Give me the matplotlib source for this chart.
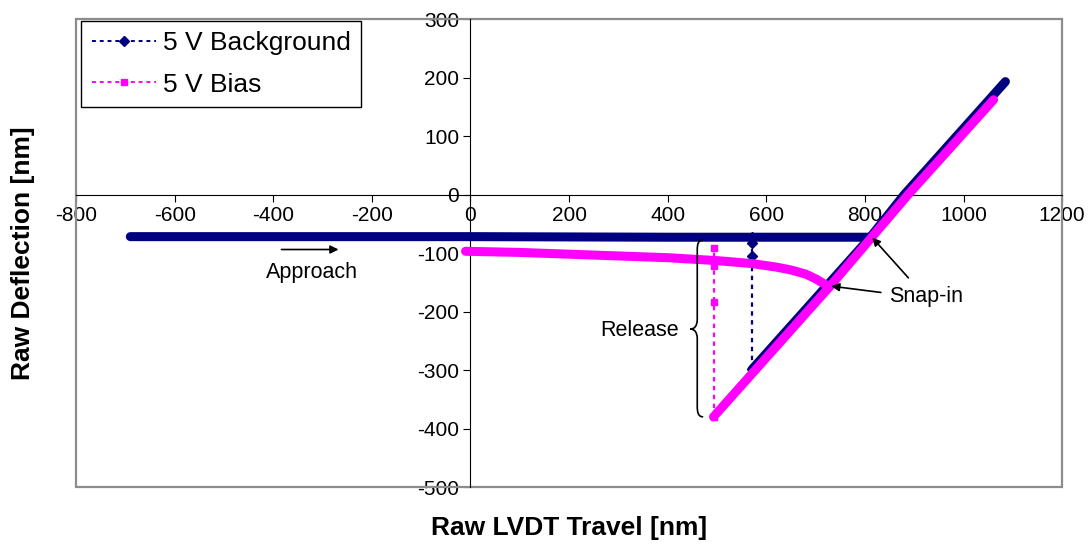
import matplotlib.pyplot as plt
from matplotlib.lines import Line2D
from matplotlib.patches import PathPatch, Rectangle
from matplotlib.path import Path

plt.rcParams['font.family'] = ['Liberation Sans', 'DejaVu Sans']
plt.rcParams['axes.unicode_minus'] = False

# 5 V background run: approach, contact line and release jump
bg_approach_x = [-690, -400, 0, 400, 811]
bg_approach_y = [-72, -72, -72, -73, -73]
bg_contact_x = [571, 811, 880, 1085]
bg_contact_y = [-299, -73, 0, 193]
bg_release_x = [571, 571, 571, 571]
bg_release_y = [-299, -105, -83, -73]

# 5 V bias run
bias_approach_x = [-10, 100, 200, 300, 400, 500, 570, 620, 650, 680, 700, 728]
bias_approach_y = [-97, -99, -102, -105, -108, -113, -118, -124, -129, -136, -144, -158]
bias_contact_x = [493, 728, 888, 1061]
bias_contact_y = [-380, -158, 0, 162]
bias_release_x = [493, 493, 493, 493]
bias_release_y = [-380, -183, -123, -92]

x_ticks = [-800, -600, -400, -200, 0, 200, 400, 600, 800, 1000, 1200]
y_ticks = [-500, -400, -300, -200, -100, 0, 100, 200, 300]

navy = '#000080'
pink = '#FF00FF'

fig = plt.figure(figsize=(10.88, 5.45), dpi=100)
ax = fig.add_axes([0.0699, 0.1064, 0.9063, 0.8587])
ax.set_xlim(-800, 1200)
ax.set_ylim(-500, 300)

# grey frame round the plot area, axes crossing at zero
for s in ['top', 'right']:
    ax.spines[s].set_visible(False)
ax.spines['left'].set_position(('data', 0))
ax.spines['bottom'].set_position(('data', 0))
ax.spines['left'].set_color('black')
ax.spines['bottom'].set_color('black')
ax.add_patch(Rectangle((0, 0), 1, 1, transform=ax.transAxes, fill=False,
                       edgecolor='#8c8c8c', lw=1.6, zorder=2.4, clip_on=False))

ax.set_xticks(x_ticks)
ax.set_yticks(y_ticks)
ax.tick_params(direction='out', length=5, width=0.8, labelsize=15, pad=3)

band = dict(lw=6.5, solid_capstyle='round', solid_joinstyle='round', zorder=3)
ax.plot(bg_approach_x, bg_approach_y, color=navy, **band)
ax.plot(bg_contact_x, bg_contact_y, color=navy, **band)
ax.plot(bg_release_x, bg_release_y, color=navy, ls=(0, (2, 2)), lw=1.6,
        marker='D', ms=5, zorder=3)

ax.plot(bias_approach_x, bias_approach_y, color=pink, **band)
ax.plot(bias_contact_x, bias_contact_y, color=pink, **band)
ax.plot(bias_release_x, bias_release_y, color=pink, ls=(0, (2, 2)), lw=1.6,
        marker='s', ms=5, zorder=3)

# annotations
arrow = dict(arrowstyle='-|>', color='black', lw=1.2, mutation_scale=12)
ax.annotate('', xy=(-262, -94), xytext=(-389, -94), arrowprops=arrow, zorder=5)
ax.text(-321, -134, 'Approach', fontsize=15.5, ha='center', va='center')

ax.text(925, -175, 'Snap-in', fontsize=15.5, ha='center', va='center')
ax.annotate('', xy=(811, -70), xytext=(892, -146), arrowprops=arrow, zorder=5)
ax.annotate('', xy=(726, -156), xytext=(838, -168), arrowprops=arrow, zorder=5)

ax.text(343, -233, 'Release', fontsize=15.5, ha='center', va='center')
brace = Path([(472, -78), (462, -78), (460, -84), (460, -95),
              (460, -213),
              (460, -224), (455, -230), (446, -230),
              (455, -230), (460, -236), (460, -247),
              (460, -362),
              (460, -373), (462, -380), (472, -380)],
             [Path.MOVETO, Path.CURVE4, Path.CURVE4, Path.CURVE4,
              Path.LINETO,
              Path.CURVE4, Path.CURVE4, Path.CURVE4,
              Path.CURVE4, Path.CURVE4, Path.CURVE4,
              Path.LINETO,
              Path.CURVE4, Path.CURVE4, Path.CURVE4])
ax.add_patch(PathPatch(brace, fill=False, lw=1.2, edgecolor='black', zorder=4))

handles = [Line2D([], [], color=navy, ls=(0, (2, 2)), lw=1.4, marker='D', ms=5),
           Line2D([], [], color=pink, ls=(0, (2, 2)), lw=1.4, marker='s', ms=5)]
leg = ax.legend(handles, ['5 V Background', '5 V Bias'], loc='upper left',
                bbox_to_anchor=(0.005, 0.996), borderaxespad=0, fontsize=19,
                handlelength=2.45, handletextpad=0.25, fancybox=False,
                framealpha=1, edgecolor='black', borderpad=0.4, labelspacing=0.65)
leg.get_frame().set_linewidth(1.0)
leg.set_zorder(6)

fig.text(0.523, 0.031, 'Raw LVDT Travel [nm]', fontsize=19, fontweight='bold',
         ha='center', va='center')
fig.text(0.021, 0.535, 'Raw Deflection [nm]', fontsize=19, fontweight='bold',
         ha='center', va='center', rotation=90)

fig.savefig('out.png', dpi=100)
